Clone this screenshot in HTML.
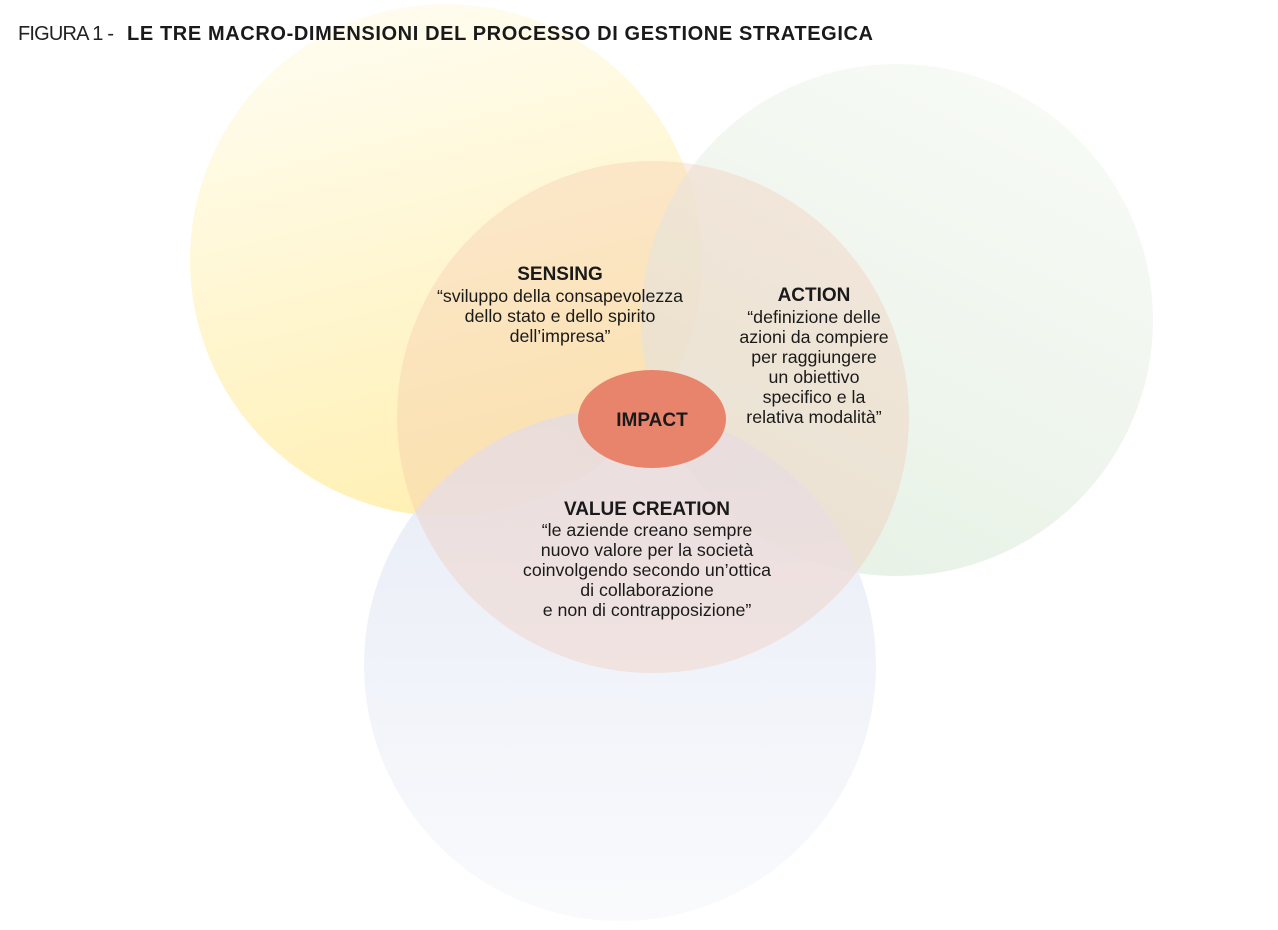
<!DOCTYPE html>
<html><head><meta charset="utf-8"><style>
body{margin:0;background:#fff;width:1278px;height:930px;overflow:hidden;font-family:"Liberation Sans",sans-serif}
svg{position:absolute;left:0;top:0}
</style></head><body>
<svg width="1278" height="930" viewBox="0 0 1278 930">
<defs>
<linearGradient id="gy" x1="0.25" y1="0" x2="0.5" y2="1"><stop offset="0" stop-color="#fffdf2"/><stop offset="1" stop-color="#fff0b4"/></linearGradient>
<linearGradient id="gg" x1="0.8" y1="0" x2="0.3" y2="1"><stop offset="0" stop-color="#f7faf5"/><stop offset="1" stop-color="#e3efe1"/></linearGradient>
<linearGradient id="gb" x1="0" y1="0" x2="0" y2="1"><stop offset="0" stop-color="#e4e9f5"/><stop offset="1" stop-color="#f9fafc"/></linearGradient>
</defs>
<circle cx="446" cy="260" r="256" fill="url(#gy)"/>
<circle cx="897" cy="320" r="256" fill="url(#gg)" opacity="0.85"/>
<circle cx="620" cy="665" r="256" fill="url(#gb)" opacity="0.9"/>
<circle cx="653" cy="417" r="256" fill="#f0bca0" opacity="0.28"/>
<ellipse cx="652" cy="419" rx="74" ry="49" fill="#e8836c"/>
<text x="18" y="40" font-size="20" fill="#222" textLength="96">FIGURA 1 -</text>
<text x="127" y="40" font-size="20" fill="#1a1a1a" font-weight="bold" textLength="746">LE TRE MACRO-DIMENSIONI DEL PROCESSO DI GESTIONE STRATEGICA</text>
<g font-size="17.8" fill="#1a1a1a" text-anchor="middle">
<text x="560" y="280" font-weight="bold" font-size="19">SENSING</text>
<text x="560" y="302">“sviluppo della consapevolezza</text>
<text x="560" y="322">dello stato e dello spirito</text>
<text x="560" y="342">dell’impresa”</text>
<text x="814" y="301" font-weight="bold" font-size="19">ACTION</text>
<text x="814" y="323">“definizione delle</text>
<text x="814" y="343">azioni da compiere</text>
<text x="814" y="363">per raggiungere</text>
<text x="814" y="383">un obiettivo</text>
<text x="814" y="403">specifico e la</text>
<text x="814" y="423">relativa modalità”</text>
<text x="652" y="426" font-weight="bold" font-size="19">IMPACT</text>
<text x="647" y="515" font-weight="bold" font-size="19">VALUE CREATION</text>
<text x="647" y="536">“le aziende creano sempre</text>
<text x="647" y="556">nuovo valore per la società</text>
<text x="647" y="576">coinvolgendo secondo un’ottica</text>
<text x="647" y="596">di collaborazione</text>
<text x="647" y="616">e non di contrapposizione”</text>
</g>
</svg>
</body></html>
